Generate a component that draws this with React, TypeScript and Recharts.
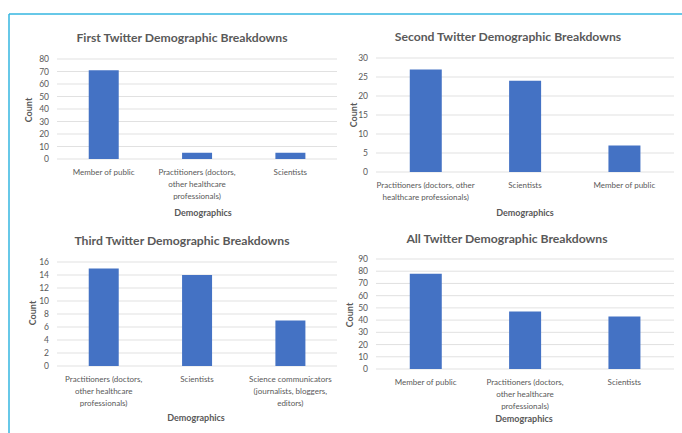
import { BarChart, Bar, XAxis, YAxis, CartesianGrid } from 'recharts';

// chart data, one small set per panel
const firstCategories = ['Member of public', 'Practitioners (doctors,\nother healthcare\nprofessionals)', 'Scientists'];
const firstCounts = [71, 5, 5];
const firstTicks = [0, 10, 20, 30, 40, 50, 60, 70, 80];

const secondCategories = ['Practitioners (doctors, other\nhealthcare professionals)', 'Scientists', 'Member of public'];
const secondCounts = [27, 24, 7];
const secondTicks = [0, 5, 10, 15, 20, 25, 30];

const thirdCategories = ['Practitioners (doctors,\nother healthcare\nprofessionals)', 'Scientists', 'Science communicators\n(journalists, bloggers,\neditors)'];
const thirdCounts = [15, 14, 7];
const thirdTicks = [0, 2, 4, 6, 8, 10, 12, 14, 16];

const allCategories = ['Member of public', 'Practitioners (doctors,\nother healthcare\nprofessionals)', 'Scientists'];
const allCounts = [78, 47, 43];
const allTicks = [0, 10, 20, 30, 40, 50, 60, 70, 80, 90];

const FONT = 'Lato, "Open Sans", sans-serif';
const TEXT = '#595959';
const BAR = '#4472C4';

function MultiLineTick(props: any) {
  const { x, y, payload } = props;
  const lines = String(payload.value).split('\n');
  return (
    <text x={x} y={y} textAnchor="middle" fill={TEXT} fontSize={8} fontFamily={FONT}>
      {lines.map((l, i) => (
        <tspan key={i} x={x} dy={i === 0 ? 8 : 12}>{l}</tspan>
      ))}
    </text>
  );
}

interface PanelProps {
  left: number;
  top: number;
  width: number;
  height: number;
  plot: { l: number; t: number; r: number; b: number };
  categories: string[];
  counts: number[];
  ticks: number[];
  title: string;
  titleX: number;
  titleY: number;
  countX: number;
  countY: number;
  demoX: number;
  demoY: number;
}

function Panel(p: PanelProps) {
  const data = p.categories.map((c, i) => ({ name: c, count: p.counts[i] }));
  const yW = 25;
  const xH = 40;
  const max = p.ticks[p.ticks.length - 1];
  return (
    <div style={{ position: 'absolute', left: p.left, top: p.top, width: p.width, height: p.height }}>
      <BarChart
        width={p.width}
        height={p.height}
        data={data}
        barCategoryGap="34%"
        margin={{ top: p.plot.t, left: p.plot.l - yW, right: p.width - p.plot.r, bottom: p.height - p.plot.b - xH }}
      >
        <CartesianGrid vertical={false} stroke="#d9d9d9" strokeWidth={0.8} />
        <XAxis dataKey="name" interval={0} axisLine={false} tickLine={false} height={xH} tick={<MultiLineTick />} />
        <YAxis
          width={yW}
          domain={[0, max]}
          ticks={p.ticks}
          interval={0}
          axisLine={false}
          tickLine={false}
          tick={{ fontSize: 8.5, fill: TEXT, fontFamily: FONT }}
        />
        <Bar dataKey="count" fill={BAR} isAnimationActive={false} />
      </BarChart>
      <svg width={p.width} height={p.height} style={{ position: 'absolute', left: 0, top: 0, pointerEvents: 'none' }}>
        <text x={p.titleX} y={p.titleY} textAnchor="middle" dominantBaseline="central" fontSize={12.2} fontWeight="bold" fill={TEXT} fontFamily={FONT}>
          {p.title}
        </text>
        <text
          x={p.countX}
          y={p.countY}
          textAnchor="middle"
          dominantBaseline="central"
          fontSize={9}
          fontWeight="bold"
          fill={TEXT}
          fontFamily={FONT}
          transform={`rotate(-90 ${p.countX} ${p.countY})`}
        >
          Count
        </text>
        <text x={p.demoX} y={p.demoY} textAnchor="middle" dominantBaseline="central" fontSize={9} fontWeight="bold" fill={TEXT} fontFamily={FONT}>
          Demographics
        </text>
      </svg>
    </div>
  );
}

export default function App() {
  return (
    <div style={{ position: 'absolute', left: 0, top: 0, width: 682, height: 433, background: '#fff', overflow: 'hidden' }}>
      <Panel
        left={0} top={0} width={341} height={220}
        plot={{ l: 57, t: 59, r: 337, b: 159 }}
        categories={firstCategories} counts={firstCounts} ticks={firstTicks}
        title="First Twitter Demographic Breakdowns" titleX={182} titleY={37}
        countX={28} countY={110} demoX={203} demoY={212}
      />
      <Panel
        left={341} top={0} width={341} height={220}
        plot={{ l: 35, t: 58, r: 333, b: 172 }}
        categories={secondCategories} counts={secondCounts} ticks={secondTicks}
        title="Second Twitter Demographic Breakdowns" titleX={167} titleY={36}
        countX={12} countY={115} demoX={184} demoY={212}
      />
      <Panel
        left={0} top={220} width={341} height={213}
        plot={{ l: 57, t: 42, r: 337, b: 146 }}
        categories={thirdCategories} counts={thirdCounts} ticks={thirdTicks}
        title="Third Twitter Demographic Breakdowns" titleX={182} titleY={20}
        countX={32} countY={93} demoX={196} demoY={197}
      />
      <Panel
        left={341} top={220} width={341} height={213}
        plot={{ l: 35, t: 39, r: 333, b: 149 }}
        categories={allCategories} counts={allCounts} ticks={allTicks}
        title="All Twitter Demographic Breakdowns" titleX={166} titleY={18}
        countX={8} countY={95} demoX={183} demoY={198}
      />
      <svg width={682} height={433} style={{ position: 'absolute', left: 0, top: 0, pointerEvents: 'none' }}>
        <line x1={9} y1={14} x2={682} y2={14} stroke="#35B6E0" strokeWidth={1.5} />
        <line x1={9} y1={14} x2={9} y2={433} stroke="#35B6E0" strokeWidth={1.5} />
      </svg>
    </div>
  );
}
